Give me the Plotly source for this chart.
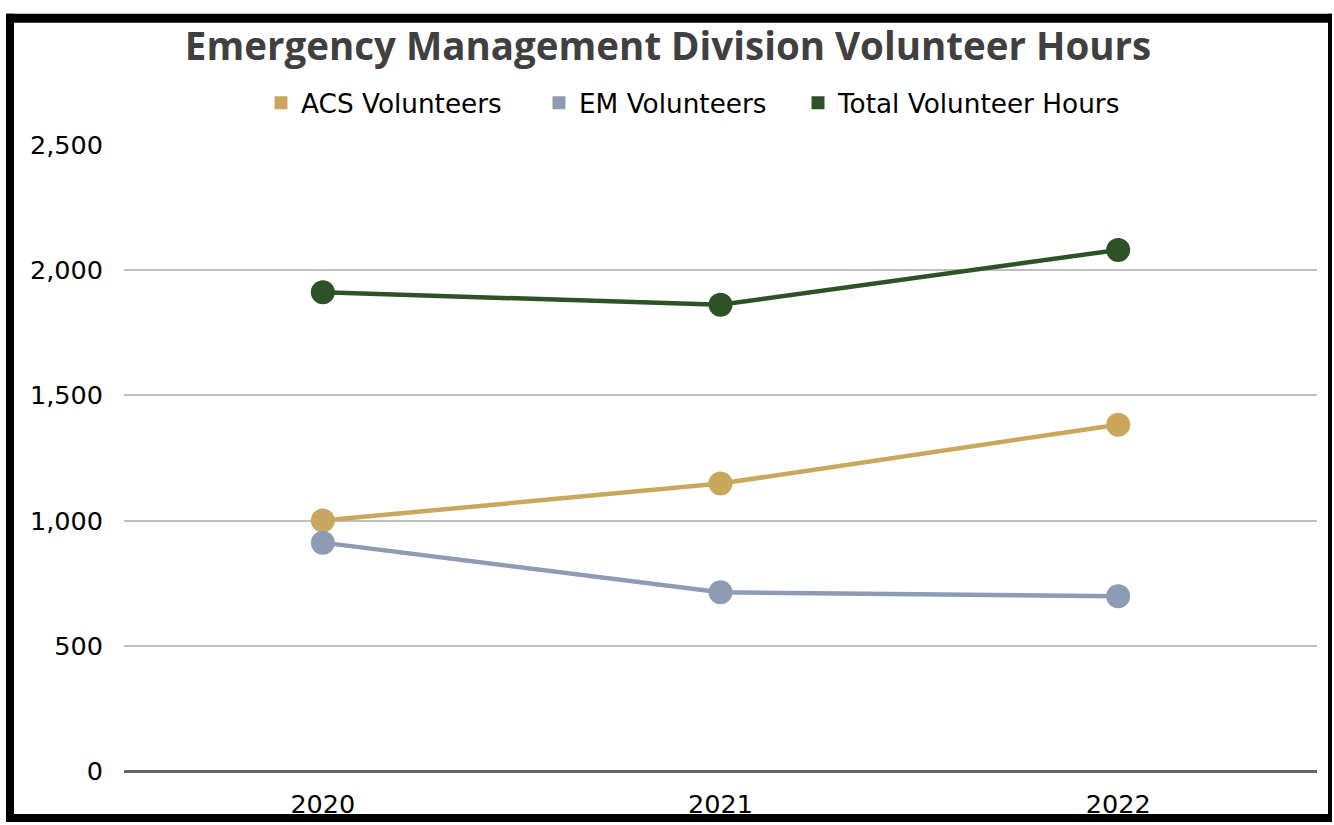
import plotly.graph_objects as go

years = ["2020", "2021", "2022"]
acs = [1000, 1148, 1383]
em = [912, 714, 698]
total = [1912, 1862, 2081]
series_names = ["ACS Volunteers", "EM Volunteers", "Total Volunteer Hours"]
colors = ["#C9A75C", "#8E9BB5", "#2D5226"]
y_ticks = [0, 500, 1000, 1500, 2000, 2500]
y_labels = ["0", "500", "1,000", "1,500", "2,000", "2,500"]

W, H = 1334, 831
K = (H + 5) / 825  # vertical compensation for the capture
# plot area in reference picture coordinates
PL, PR, PT, PB = 124, 1317, 143, 774
L, R = PL, W - PR
T, B = round(PT * K), H - round(PB * K)
pw, ph = W - L - R, H - T - B

def px(x):  # picture x -> paper
    return (x - L) / pw

def py(y):  # picture y -> paper
    return (H - B - y * K) / ph

TICKFONT = dict(size=25.5, family="DejaVu Sans", color="#000000")

fig = go.Figure()
for name, vals, c in zip(series_names, [acs, em, total], colors):
    fig.add_trace(go.Scatter(x=years, y=vals, mode="lines+markers", name=name,
                             line=dict(color=c, width=4.5),
                             marker=dict(color=c, size=24),
                             showlegend=False, cliponaxis=False))

legend_x = [281, 559, 818]
legend_ids = ["legend", "legend2", "legend3"]
layout_legends = {}
for name, c, lx, lid in zip(series_names, colors, legend_x, legend_ids):
    fig.add_trace(go.Scatter(x=[None], y=[None], mode="markers", name=name, legend=lid,
                             marker=dict(color=c, size=13, symbol="square")))
    layout_legends[lid] = dict(orientation="h", x=px(lx - 20), xanchor="left",
                               y=py(101), yanchor="middle", bgcolor="rgba(0,0,0,0)",
                               font=dict(size=26.3, family="DejaVu Sans", color="#000000"))

shapes = []
for x0, y0, x1, y1 in [(6, 11, 14, 825), (6, 11, 1332, 20), (1328, 11, 1332, 825), (6, 817, 1332, 825)]:
    shapes.append(dict(type="rect", xref="paper", yref="paper",
                       x0=px(x0), x1=px(x1), y0=py(y1), y1=py(y0),
                       fillcolor="black", line=dict(width=0), layer="above"))

fig.update_layout(
    width=W, height=H,
    margin=dict(l=L, r=R, t=T, b=B),
    paper_bgcolor="white", plot_bgcolor="white",
    font=dict(family="DejaVu Sans", color="#000000"),
    title=dict(text="<b>Emergency Management Division Volunteer Hours</b>",
               x=668 / W, xanchor="center", y=1 - 46 * K / H, yanchor="middle",
               font=dict(size=38.5, color="#404040", family="Open Sans")),
    xaxis=dict(type="category", range=[-0.5, 2.5], showgrid=False, showline=False,
               ticks="", tickfont=TICKFONT, zeroline=False, ticklabelstandoff=15),
    yaxis=dict(range=[0, 2500], tickvals=y_ticks, ticktext=y_labels,
               showgrid=True, gridcolor="#BFBFBF", gridwidth=1.5,
               zeroline=True, zerolinecolor="#666666", zerolinewidth=2.5,
               showline=False, ticks="", ticklabelstandoff=20, tickfont=TICKFONT),
    shapes=shapes,
    **layout_legends,
)
post = (
    "document.documentElement.style.margin='0';"
    "document.body.style.margin='0';"
)
fig.write_html("out.html", config={"displayModeBar": False}, post_script=post)
